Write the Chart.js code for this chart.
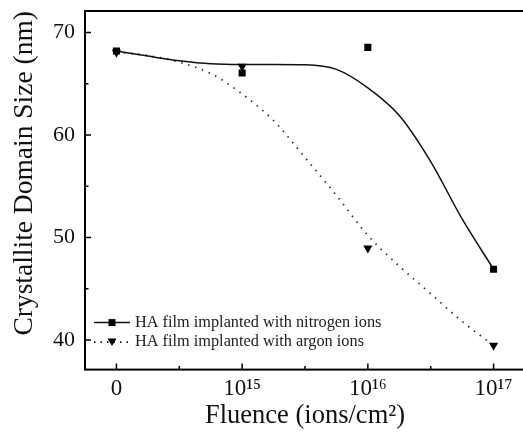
<!DOCTYPE html>
<html>
<head>
<meta charset="utf-8">
<script src="https://cdn.jsdelivr.net/npm/chart.js@4"></script>
<style>
  html, body { margin: 0; background: #fff; overflow: hidden; }
  #wrap { width: 525px; height: 434px; }
</style>
</head>
<body>
<div id="wrap"><canvas id="c"></canvas></div>
<script>
// fluence categories sit at positions 0..3 on a linear axis
const fluence = ['0', '10¹⁵', '10¹⁶', '10¹⁷'];
const fluencePos = [0, 1, 2, 3];
const nitrogen = [68.2, 66.05, 68.55, 46.9];
const argon = [68.05, 66.7, 48.95, 39.45];

// smoothed guide curves
const fitPos = [0, 0.25, 0.5, 0.75, 1, 1.25, 1.5, 1.75, 2, 2.25, 2.5, 2.75, 3];
const nitrogenFit = [68.2, 67.7, 67.25, 66.95, 66.88, 66.88, 66.85, 66.4, 64.6, 61.9, 57.4, 51.8, 46.9];
const argonFit = [68.1, 67.75, 67.1, 66.0, 64.0, 61.4, 57.8, 54.1, 50.2, 47.2, 44.5, 41.8, 39.45];

const xTicks = [0, 0.5, 1, 1.5, 2, 2.5, 3];
const yTicks = [40, 45, 50, 55, 60, 65, 70];

const legendItems = [
  { text: 'HA film implanted with nitrogen ions', dash: [], marker: 'rect' },
  { text: 'HA film implanted with argon ions', dash: [1.5, 5], marker: 'tri' },
];

const SERIF = '"Liberation Serif", "Times New Roman", serif';
const pts = (xs, ys) => xs.map((x, i) => ({ x, y: ys[i] }));

// frame, inward ticks and the in-plot legend
const frameTicks = {
  id: 'frameTicks',
  afterDatasetsDraw(chart) {
    const { ctx, chartArea: a, scales: { x, y } } = chart;
    ctx.save();
    ctx.strokeStyle = '#000';
    ctx.lineWidth = 2;
    ctx.strokeRect(a.left, a.top, a.right - a.left, a.bottom - a.top);
    ctx.lineWidth = 1.5;
    ctx.beginPath();
    x.ticks.forEach((t) => {
      const px = x.getPixelForValue(t.value);
      const len = Number.isInteger(t.value) ? 6 : 3.5;
      ctx.moveTo(px, a.bottom);
      ctx.lineTo(px, a.bottom - len);
    });
    y.ticks.forEach((t) => {
      const py = y.getPixelForValue(t.value);
      const len = t.value % 10 === 0 ? 6 : 3.5;
      ctx.moveTo(a.left, py);
      ctx.lineTo(a.left + len, py);
    });
    ctx.stroke();

    // legend
    legendItems.forEach((it, i) => {
      const ly = a.bottom - 47 + i * 19.5;
      const x0 = a.left + 9, x1 = a.left + 45, cx = a.left + 27;
      ctx.strokeStyle = '#111';
      ctx.lineWidth = it.dash.length ? 1.8 : 1.5;
      ctx.setLineDash(it.dash);
      ctx.beginPath();
      ctx.moveTo(x0, ly);
      ctx.lineTo(x1, ly);
      ctx.stroke();
      ctx.setLineDash([]);
      ctx.fillStyle = '#000';
      if (it.marker === 'rect') {
        ctx.fillRect(cx - 3.5, ly - 3.5, 7, 7);
      } else {
        ctx.beginPath();
        ctx.moveTo(cx - 4.5, ly - 3.5);
        ctx.lineTo(cx + 4.5, ly - 3.5);
        ctx.lineTo(cx, ly + 4);
        ctx.closePath();
        ctx.fill();
      }
      ctx.fillStyle = '#222';
      ctx.font = '16.3px ' + SERIF;
      ctx.textBaseline = 'middle';
      ctx.fillText(it.text, a.left + 50, ly);
    });
    ctx.restore();
  },
};

new Chart(document.getElementById('c'), {
  type: 'scatter',
  data: {
    datasets: [
      { data: pts(fluencePos, nitrogen), pointStyle: 'rect', pointRadius: 5,
        backgroundColor: '#000', borderColor: '#000', borderWidth: 0, order: 1 },
      { data: pts(fluencePos, argon), pointStyle: 'triangle', rotation: 180, pointRadius: 5.3,
        backgroundColor: '#000', borderColor: '#000', borderWidth: 0, order: 1 },
      { data: pts(fitPos, nitrogenFit), showLine: true, pointRadius: 0, borderColor: '#111',
        borderWidth: 1.5, cubicInterpolationMode: 'monotone', order: 2 },
      { data: pts(fitPos, argonFit), showLine: true, pointRadius: 0, borderColor: '#333',
        borderWidth: 1.8, borderDash: [1.5, 5.8], cubicInterpolationMode: 'monotone', order: 2 },
    ],
  },
  options: {
    responsive: true,
    maintainAspectRatio: false,
    animation: false,
    layout: { autoPadding: false, padding: { left: 8, right: 0, top: 11, bottom: 2 } },
    plugins: { legend: { display: false }, tooltip: { enabled: false } },
    scales: {
      x: {
        type: 'linear', min: -0.25, max: 3.25,
        afterBuildTicks: (s) => { s.ticks = xTicks.map((v) => ({ value: v })); },
        afterFit: (s) => { s.paddingLeft = 0; s.paddingRight = 0; },
        grid: { display: false, drawTicks: false },
        border: { display: false },
        ticks: {
          padding: 6, autoSkip: false, maxRotation: 0, color: '#111',
          font: { family: SERIF, size: 23 },
          callback: (v) => (Number.isInteger(v) ? fluence[v] : ''),
        },
        title: { display: true, text: 'Fluence (ions/cm²)', color: '#111',
          font: { family: SERIF, size: 26.5 }, padding: { top: -9, bottom: 0 } },
      },
      y: {
        min: 37.1, max: 72.1,
        afterBuildTicks: (s) => { s.ticks = yTicks.map((v) => ({ value: v })); },
        afterFit: (s) => { s.paddingTop = 0; s.paddingBottom = 0; },
        grid: { display: false, drawTicks: false },
        border: { display: false },
        ticks: {
          padding: 10, color: '#111',
          font: { family: SERIF, size: 22 },
          callback: (v) => (v % 10 === 0 ? v : ''),
        },
        title: { display: true, text: 'Crystallite Domain Size (nm)', color: '#111', align: 'end',
          font: { family: SERIF, size: 27.5 }, padding: { top: 0, bottom: 2 } },
      },
    },
  },
  plugins: [frameTicks],
});
</script>
</body>
</html>
